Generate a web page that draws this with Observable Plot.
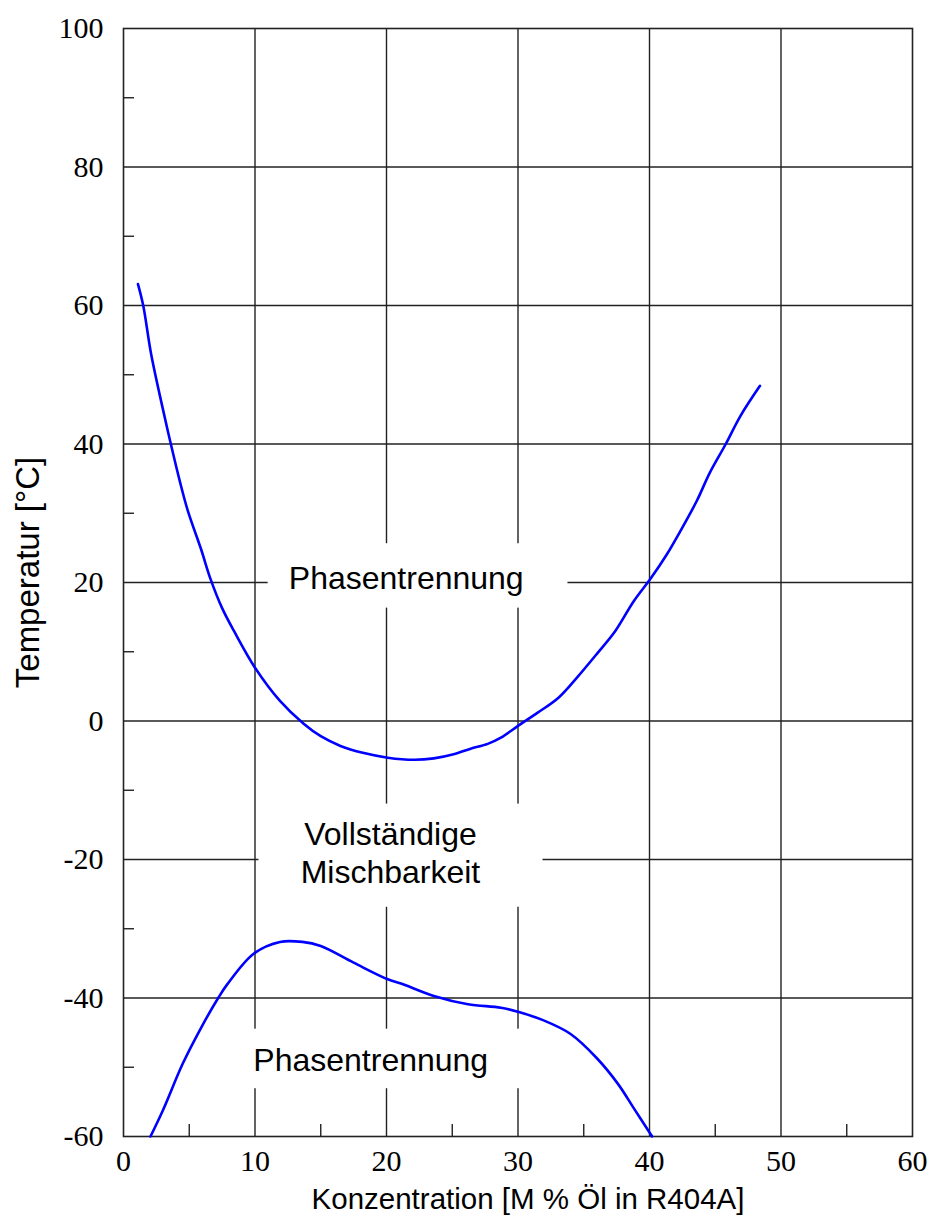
<!DOCTYPE html>
<html>
<head>
<meta charset="utf-8">
<script src="https://cdn.jsdelivr.net/npm/d3@7"></script>
<script src="https://cdn.jsdelivr.net/npm/@observablehq/plot@0.6"></script>
<style>
  html, body { margin: 0; padding: 0; background: #fff; }
</style>
</head>
<body>
<div id="chart"></div>
<script>
// Upper miscibility boundary (x: mass % oil, T: °C)
const upperX = [1.1, 1.5, 2.1, 3.0, 3.6, 4.3, 4.9, 5.9, 6.6, 7.5, 8.4, 10.0, 11.9, 13.7, 15.0, 16.5, 18.2, 20.1, 22.1, 23.6, 25.1, 26.4, 27.7, 28.7, 30.0, 31.5, 33.1, 34.5, 36.0, 37.4, 38.8, 40.1, 41.3, 42.4, 43.6, 44.6, 45.8, 46.9, 48.4];
const upperT = [63.1, 60.0, 53.0, 45.0, 40.0, 34.5, 30.3, 24.8, 20.6, 16.3, 13.0, 7.7, 2.9, -0.4, -2.2, -3.6, -4.6, -5.3, -5.6, -5.4, -4.8, -4.0, -3.3, -2.4, -0.7, 1.2, 3.4, 6.3, 9.7, 13.0, 17.3, 20.6, 24.0, 27.6, 31.8, 35.9, 40.0, 44.0, 48.4];

// Lower miscibility boundary
const lowerX = [2.05, 3.0, 4.5, 5.9, 7.2, 7.9, 9.9, 11.9, 13.6, 15.0, 17.5, 20.1, 21.1, 23.6, 26.2, 28.7, 30.0, 31.9, 34.0, 36.0, 37.6, 38.8, 40.2];
const lowerT = [-60.0, -56.2, -49.5, -44.3, -40.0, -38.0, -33.6, -31.9, -31.9, -32.5, -34.9, -37.3, -37.9, -39.7, -40.9, -41.4, -42.0, -43.2, -45.2, -48.7, -52.4, -55.9, -60.0];

// Ticks
const xMajor = [0, 10, 20, 30, 40, 50, 60];
const xMinor = [5, 15, 25, 35, 45, 55];
const yMajor = [-60, -40, -20, 0, 20, 40, 60, 80, 100];
const yMinor = [-50, -30, -10, 10, 30, 50, 70, 90];
const xGrid = [10, 20, 30, 40, 50];
const yGrid = [-40, -20, 0, 20, 40, 60, 80];

// Region labels (centre in data units, white box extents in data units)
const labelText = ["Phasentrennung", "Vollständige\nMischbarkeit", "Phasentrennung"];
const labelX = [21.5, 20.3, 18.8];
const labelT = [20.8, -18.9, -48.8];
const boxX1 = [11.0, 10.3, 8.9];
const boxX2 = [33.8, 31.9, 31.0];
const boxT1 = [16.3, -26.9, -53.1];
const boxT2 = [25.6, -12.0, -44.5];

const xTitle = "Konzentration [M % Öl in R404A]";
const yTitle = "Temperatur [°C]";

const upper = upperX.map((x, i) => ({x, t: upperT[i]}));
const lower = lowerX.map((x, i) => ({x, t: lowerT[i]}));
const labels = labelText.map((text, i) => ({text, x: labelX[i], t: labelT[i], x1: boxX1[i], x2: boxX2[i], t1: boxT1[i], t2: boxT2[i]}));

const serif = "'Liberation Serif', 'Times New Roman', serif";
const sans = "'Liberation Sans', Arial, sans-serif";

const chart = Plot.plot({
  width: 930,
  height: 1223,
  marginLeft: 123,
  marginRight: 18,
  marginTop: 28,
  marginBottom: 87,
  style: {background: "#fff", color: "#000", fontFamily: sans},
  x: {domain: [0, 60]},
  y: {domain: [-60, 100]},
  marks: [
    Plot.ruleX(xGrid, {stroke: "#222", strokeWidth: 1.4}),
    Plot.ruleY(yGrid, {stroke: "#222", strokeWidth: 1.4}),
    Plot.rect(labels, {x1: "x1", x2: "x2", y1: "t1", y2: "t2", fill: "#fff"}),
    Plot.axisX(xMajor, {anchor: "bottom", tickSize: 0, tickPadding: 13, tickFormat: d => String(d), label: null}),
    Plot.axisY(yMajor, {anchor: "left", tickSize: 0, tickPadding: 20, tickFormat: d => String(d), label: null}),
    Plot.axisX(xMinor, {anchor: "bottom", tickSize: -12, tickFormat: () => "", label: null, stroke: "#222", strokeWidth: 1.4}),
    Plot.axisY(yMinor, {anchor: "left", tickSize: -11, tickFormat: () => "", label: null, stroke: "#222", strokeWidth: 1.4}),
    Plot.frame({stroke: "#222", strokeWidth: 1.6}),
    Plot.line(upper, {x: "x", y: "t", stroke: "#0000ff", strokeWidth: 2.6, curve: "catmull-rom"}),
    Plot.line(lower, {x: "x", y: "t", stroke: "#0000ff", strokeWidth: 2.6, curve: "catmull-rom"}),
    Plot.text(labels, {x: "x", y: "t", text: "text", fontSize: 32, lineHeight: 1.2, fill: "#000", fontFamily: sans}),
    Plot.text([xTitle], {frameAnchor: "bottom", textAnchor: "middle", dy: 72, dx: 10, text: d => d, fontSize: 29.5, fill: "#000", fontFamily: sans}),
    Plot.text([yTitle], {frameAnchor: "left", textAnchor: "middle", dx: -95, dy: -10, rotate: -90, text: d => d, fontSize: 33, fill: "#000", fontFamily: sans})
  ]
});

d3.select(chart).selectAll('g[aria-label="x-axis tick label"], g[aria-label="y-axis tick label"]')
  .attr("font-family", serif).attr("font-size", 30);
d3.select(chart).selectAll('g[aria-label="x-axis tick label"] text, g[aria-label="y-axis tick label"] text')
  .attr("font-family", serif)
  .style("font-family", serif)
  .attr("font-size", 30)
  .style("font-size", "30px")
  .attr("fill", "#000");

document.getElementById("chart").appendChild(chart);
</script>
</body>
</html>
